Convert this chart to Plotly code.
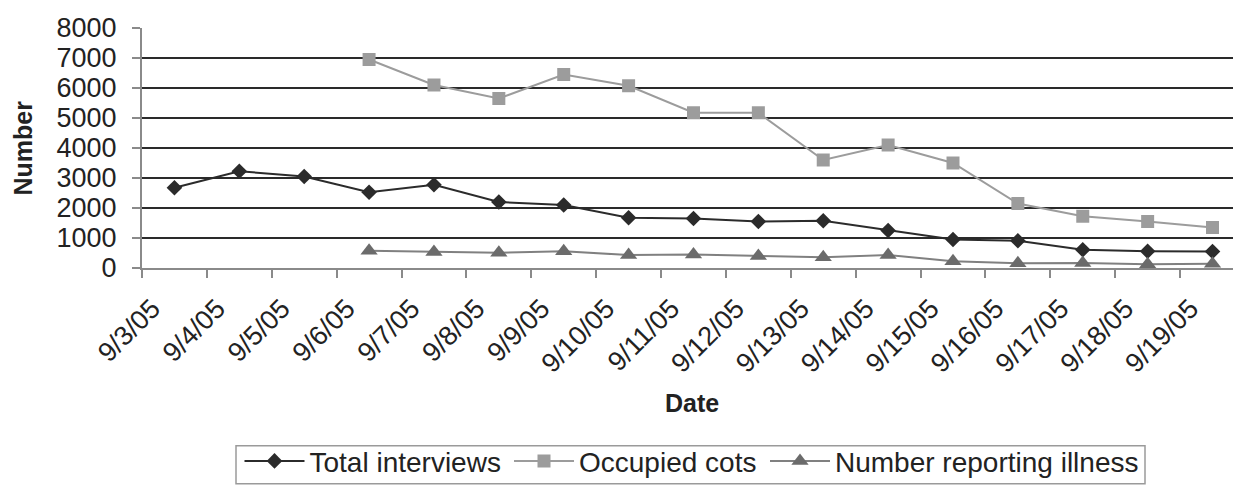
import plotly.graph_objects as go

# Daily shelter figures, September 2005
dates = ["9/3/05", "9/4/05", "9/5/05", "9/6/05", "9/7/05", "9/8/05", "9/9/05",
         "9/10/05", "9/11/05", "9/12/05", "9/13/05", "9/14/05", "9/15/05",
         "9/16/05", "9/17/05", "9/18/05", "9/19/05"]

total_interviews = [2675, 3225, 3050, 2525, 2775, 2200, 2100, 1675, 1650, 1550,
                    1575, 1250, 950, 910, 610, 560, 550]

occupied_cots = [None, None, None, 6950, 6100, 5650, 6450, 6075, 5175, 5175,
                 3600, 4100, 3500, 2150, 1725, 1550, 1350]

reporting_illness = [None, None, None, 575, 530, 510, 560, 430, 450, 400,
                     355, 430, 225, 155, 165, 125, 140]

y_ticks = [0, 1000, 2000, 3000, 4000, 5000, 6000, 7000, 8000]

FONT = "Liberation Sans, Arial, sans-serif"
W, H = 1233, 486
L, T, B = 142, 28.3, 217.7
plot_w = W - L
plot_h = H - T - B
cat_w = 64.88


def px_x(x):
    return (x - L) / plot_w


def px_y(y):
    return (H - B - y) / plot_h


fig = go.Figure()

fig.add_trace(go.Scatter(
    x=dates, y=total_interviews, name="Total interviews", mode="lines+markers",
    line=dict(color="#2b2b2b", width=2),
    marker=dict(symbol="diamond", size=12, color="#2b2b2b"),
    legend="legend",
))
fig.add_trace(go.Scatter(
    x=dates, y=occupied_cots, name="Occupied cots", mode="lines+markers",
    line=dict(color="#9c9c9c", width=2),
    marker=dict(symbol="square", size=13, color="#9c9c9c"),
    legend="legend2",
))
fig.add_trace(go.Scatter(
    x=dates, y=reporting_illness, name="Number reporting illness", mode="lines+markers",
    line=dict(color="#808080", width=2),
    marker=dict(symbol="triangle-up", size=15, color="#6b6b6b"),
    legend="legend3",
))


def legend_at(left_px):
    return dict(
        orientation="h", x=px_x(left_px), xanchor="left",
        y=px_y(461.5), yanchor="middle",
        bgcolor="rgba(0,0,0,0)", borderwidth=0,
        font=dict(family=FONT, size=28, color="#222222"),
        itemwidth=60,
    )


fig.update_layout(
    width=W, height=H,
    margin=dict(l=L, r=0, t=T, b=B, pad=0, autoexpand=False),
    paper_bgcolor="white", plot_bgcolor="white",
    font=dict(family=FONT, size=27, color="#222222"),
    showlegend=True,
    legend=legend_at(239.5),
    legend2=legend_at(509),
    legend3=legend_at(765),
    xaxis=dict(
        type="category", categoryorder="array", categoryarray=dates,
        range=[-0.5, 16.5 - (L + 17 * cat_w - W) / cat_w],
        tickson="boundaries", ticks="outside", ticklen=8, tickwidth=1.5,
        tickcolor="#8a8a8a", showline=True, linecolor="#8a8a8a", linewidth=2,
        showgrid=False, zeroline=False, tickangle=-45,
        ticklabelshift=-22, ticklabelstandoff=12,
        tickfont=dict(family=FONT, size=27, color="#222222"),
    ),
    yaxis=dict(
        range=[0, 8000], tickvals=y_ticks, ticks="outside", ticklen=8,
        tickwidth=1.5, tickcolor="#8a8a8a", showline=True, linecolor="#8a8a8a",
        linewidth=2, showgrid=True, gridcolor="#2a2a2a", gridwidth=2,
        zeroline=False, ticklabelstandoff=10,
        tickfont=dict(family=FONT, size=27, color="#222222"),
    ),
    shapes=[
        # frame around the legend entries
        dict(type="rect", xref="paper", yref="paper",
             x0=px_x(236), x1=px_x(1145), y0=px_y(446), y1=px_y(484),
             line=dict(color="#9a9a9a", width=1.5), fillcolor="rgba(0,0,0,0)",
             layer="below"),
    ],
    annotations=[
        dict(text="<b>Number</b>", xref="paper", yref="paper",
             x=px_x(22.5), y=0.5, xanchor="center", yanchor="middle",
             textangle=-90, showarrow=False,
             font=dict(family=FONT, size=25, color="#222222")),
        dict(text="<b>Date</b>", xref="paper", yref="paper",
             x=px_x(692), y=px_y(403),
             xanchor="center", yanchor="middle", showarrow=False,
             font=dict(family=FONT, size=25, color="#222222")),
    ],
)

fig.write_html("out.html")
